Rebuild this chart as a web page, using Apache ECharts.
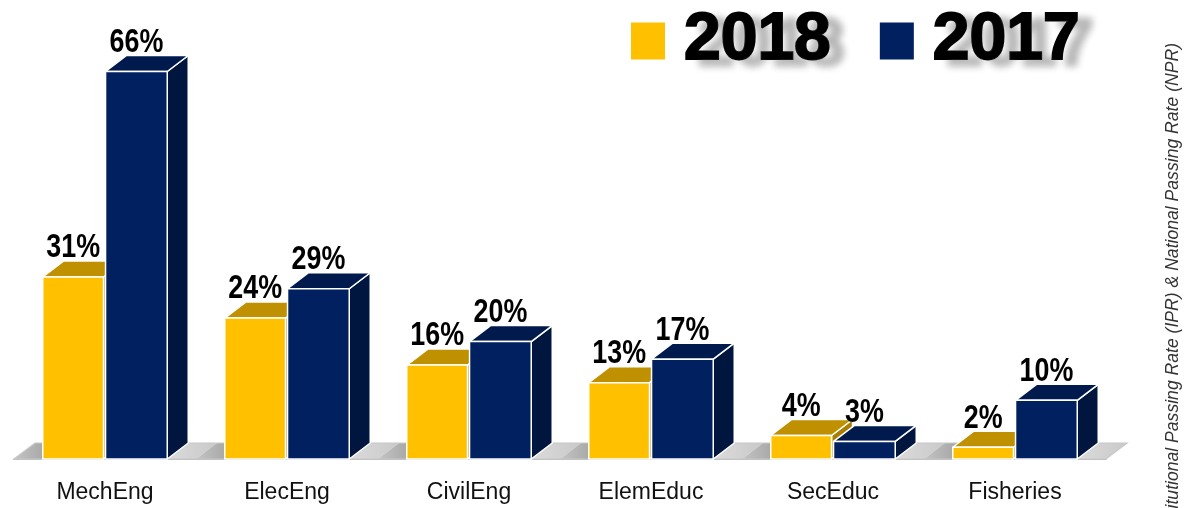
<!DOCTYPE html>
<html>
<head>
<meta charset="utf-8">
<script src="https://cdn.jsdelivr.net/npm/echarts@6/dist/echarts.min.js"></script>
<style>
  html, body { margin: 0; padding: 0; background: #fff; }
  #chart { width: 1187px; height: 508px; }
</style>
</head>
<body>
<div id="chart"></div>
<script>
// data
const categories = ["MechEng", "ElecEng", "CivilEng", "ElemEduc", "SecEduc", "Fisheries"];
const rate2018 = [31, 24, 16, 13, 4, 2];
const rate2017 = [66, 29, 20, 17, 3, 10];
const sideNote = "Institutional Passing Rate (IPR) & National Passing Rate (NPR)";

// fake 3d depth
const DX = 21, DY = -16;
const labelFont = 'bold 34px "Liberation Sans", Arial, sans-serif';

function barRenderer(colors, from, to) {
    return function (params, api) {
        const idx = api.value(0);
        const val = api.value(1);
        const top = api.coord([idx, val]);
        const base = api.coord([idx, 0]);
        const bw = api.size([1, 0])[0];
        const x0 = base[0] + from * bw;
        const x1 = base[0] + to * bw;
        const yT = top[1], yB = base[1];
        const edge = { stroke: "#fff", lineWidth: 1.5, lineJoin: "round" };
        return {
            type: "group",
            children: [
                {
                    type: "polygon",
                    shape: { points: [[x1, yT], [x1 + DX, yT + DY], [x1 + DX, yB + DY], [x1, yB]] },
                    style: Object.assign({ fill: colors.side }, edge),
                },
                {
                    type: "polygon",
                    shape: { points: [[x0, yT], [x1, yT], [x1 + DX, yT + DY], [x0 + DX, yT + DY]] },
                    style: Object.assign({ fill: colors.top }, edge),
                },
                {
                    type: "rect",
                    shape: { x: x0, y: yT, width: x1 - x0, height: yB - yT },
                    style: Object.assign({ fill: colors.front }, edge),
                },
                {
                    // narrow bold label, squeezed like Arial Narrow
                    type: "text",
                    x: (x0 + x1) / 2,
                    y: yT + DY + 4,
                    scaleX: 0.79,
                    style: {
                        text: val + "%",
                        x: 0,
                        y: 0,
                        align: "center",
                        verticalAlign: "bottom",
                        font: labelFont,
                        fill: "#000",
                    },
                },
            ],
        };
    };
}

function floorRenderer(params, api) {
    const bw = api.size([1, 0])[0];
    const first = api.coord([0, 0]);
    const last = api.coord([categories.length - 1, 0]);
    const yB = first[1];
    const children = [];
    for (let i = 0; i < categories.length; i++) {
        const c = api.coord([i, 0]);
        const xs = c[0] - bw / 2, xe = c[0] + bw / 2;
        children.push({
            type: "polygon",
            shape: { points: [[xs, yB], [xe, yB], [xe + DX, yB + DY], [xs + DX, yB + DY]] },
            style: {
                fill: new echarts.graphic.LinearGradient(0, 0, 1, 0, [
                    { offset: 0, color: "#c4c4c4" },
                    { offset: 0.2, color: "#9e9e9e" },
                    { offset: 0.45, color: "#f2f2f2" },
                    { offset: 1, color: "#c9c9c9" },
                ]),
            },
        });
    }
    const xs = first[0] - bw / 2, xe = last[0] + bw / 2;
    children.push({
        type: "polygon",
        shape: { points: [[xs, yB], [xe, yB], [xe + DX, yB + DY], [xs + DX, yB + DY]] },
        style: { fill: "none", stroke: "#c8c8c8", lineWidth: 1.2 },
    });
    return { type: "group", children: children };
}

const chart = echarts.init(document.getElementById("chart"));
chart.setOption({
    animation: false,
    backgroundColor: "#fff",
    legend: {
        left: 626,
        top: 2,
        icon: "rect",
        itemWidth: 34,
        itemHeight: 37,
        itemGap: 48,
        data: ["2018", "2017"],
        textStyle: {
            color: "#000",
            fontSize: 66,
            fontWeight: "bold",
            fontFamily: "Liberation Sans, Arial, sans-serif",
            padding: [0, 0, 0, 14],
            textBorderColor: "#000",
            textBorderWidth: 2,
            textShadowColor: "rgba(80,80,80,0.4)",
            textShadowBlur: 7,
            textShadowOffsetX: 14,
            textShadowOffsetY: 6,
        },
    },
    grid: { left: 14, right: 81, top: 48, bottom: 49 },
    xAxis: {
        type: "category",
        data: categories,
        axisLine: { lineStyle: { color: "#a8a8a8", width: 1.5 } },
        axisTick: { length: 7, lineStyle: { color: "#a8a8a8", width: 1.5 } },
        axisLabel: {
            color: "#111",
            fontSize: 23,
            fontFamily: "Liberation Sans, Arial, sans-serif",
            margin: 22,
        },
    },
    yAxis: {
        type: "value",
        min: 0,
        max: 70,
        show: false,
        splitLine: { show: false },
    },
    graphic: [
        {
            type: "text",
            x: 1173,
            y: 43,
            rotation: Math.PI / 2,
            style: {
                text: sideNote,
                align: "right",
                verticalAlign: "middle",
                font: 'italic 17.6px "Liberation Sans", Arial, sans-serif',
                fill: "#333",
            },
        },
    ],
    series: [
        {
            type: "custom",
            name: "floor",
            z: 1,
            silent: true,
            data: [[0, 0]],
            renderItem: floorRenderer,
        },
        {
            type: "custom",
            name: "2018",
            z: 2,
            itemStyle: { color: "#FFC000" },
            data: rate2018.map((v, i) => [i, v]),
            renderItem: barRenderer({ front: "#FFC000", top: "#BF9000", side: "#A87E00" }, -0.342, -0.008),
        },
        {
            type: "custom",
            name: "2017",
            z: 2,
            itemStyle: { color: "#002060" },
            data: rate2017.map((v, i) => [i, v]),
            renderItem: barRenderer({ front: "#002060", top: "#001A4D", side: "#00163F" }, 0.003, 0.342),
        },
    ],
});
</script>
</body>
</html>
